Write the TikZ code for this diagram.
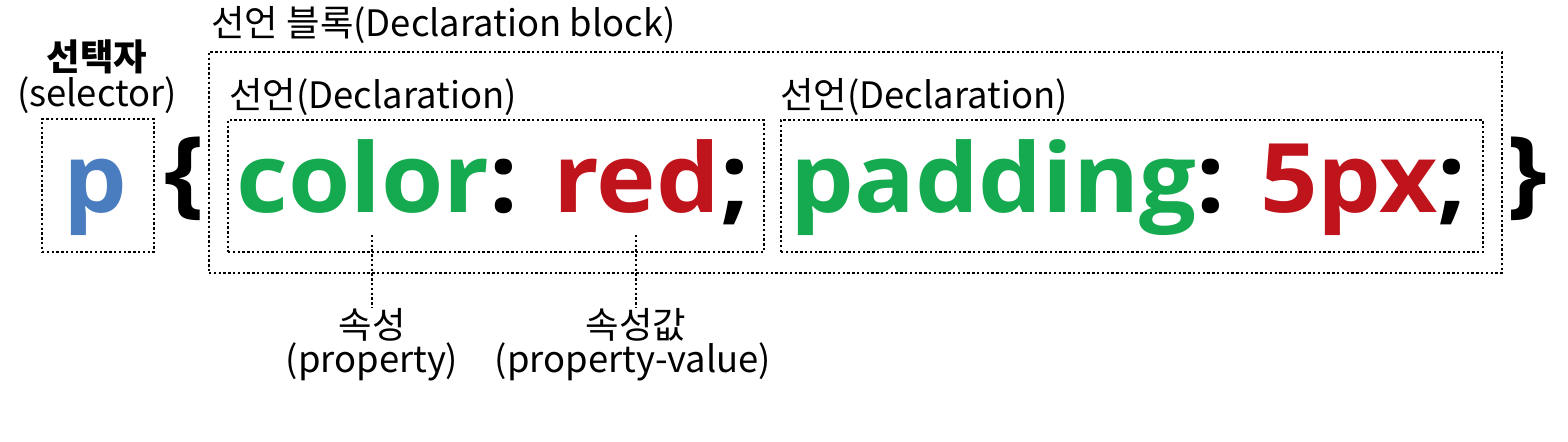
\documentclass[tikz,border=0pt]{standalone}
\usepackage{fontspec}
\setmainfont{Noto Sans CJK KR}
\newfontfamily\cssfont{Open Sans}[FakeStretch=1.05]
\definecolor{cssgreen}{RGB}{22,170,80}
\definecolor{cssred}{RGB}{192,20,28}
\definecolor{cssblue}{RGB}{74,124,192}
\tikzset{
  dotbox/.style={draw=black, line width=1.3pt, dash pattern=on 1.2pt off 1.2pt, inner sep=0pt},
  dotline/.style={draw=black, line width=1.3pt, dash pattern=on 1.2pt off 1.2pt},
  lbl/.style={inner sep=0pt, font=\fontsize{18.2pt}{22pt}\selectfont},
  big/.style={inner sep=0pt, font=\cssfont\bfseries\fontsize{48pt}{58pt}\selectfont},
}
\begin{document}
\begin{tikzpicture}[x=0.5pt,y=-0.5pt]
\useasboundingbox (0,0) rectangle (1568,442);
% boxes
\node[dotbox, minimum width=56pt, minimum height=66.5pt] (selbox) at (98,185.5) {};
\node[dotbox, minimum width=646.5pt, minimum height=110.5pt] (block) at (855.5,162.5) {};
\node[dotbox, minimum width=268pt, minimum height=66pt] (decl1) at (496,186) {};
\node[dotbox, minimum width=351pt, minimum height=66pt] (decl2) at (1132,186) {};
% labels
\node[lbl, font=\bfseries\fontsize{18.2pt}{22pt}\selectfont] (sellbl) at (97,57) {선택자};
\node[lbl] (selen) at (97,95) {(selector)};
\node[lbl, anchor=west] (blocklbl) at (211,25) {선언 블록(Declaration block)};
\node[lbl, anchor=west] (d1lbl) at (229,97) {선언(Declaration)};
\node[lbl, anchor=west] (d2lbl) at (780,97) {선언(Declaration)};
% big text
\node[big, anchor=base, text=cssblue] (sel) at (95,213) {p};
\node[big, anchor=base] (lbrace) at (184,206) {\{};
\node[big, anchor=base west] (d1txt) at (236,213) {\textcolor{cssgreen}{color}: \textcolor{cssred}{red};};
\node[big, anchor=base west] (d2txt) at (790,213) {\textcolor{cssgreen}{padding}: \textcolor{cssred}{5px};};
\node[big, anchor=base] (rbrace) at (1527,206) {\}};
% property labels
\node[lbl] (prop) at (372,325) {속성};
\node[lbl] (propen) at (372,362) {(property)};
\node[lbl] (pval) at (636,325) {속성값};
\node[lbl] (pvalen) at (633,362) {(property-value)};
\coordinate (p1) at (372,235);
\coordinate (p2) at (636,235);
\draw[dotline] (p1) -- (prop.north);
\draw[dotline] (p2) -- (pval.north);
\end{tikzpicture}
\end{document}
